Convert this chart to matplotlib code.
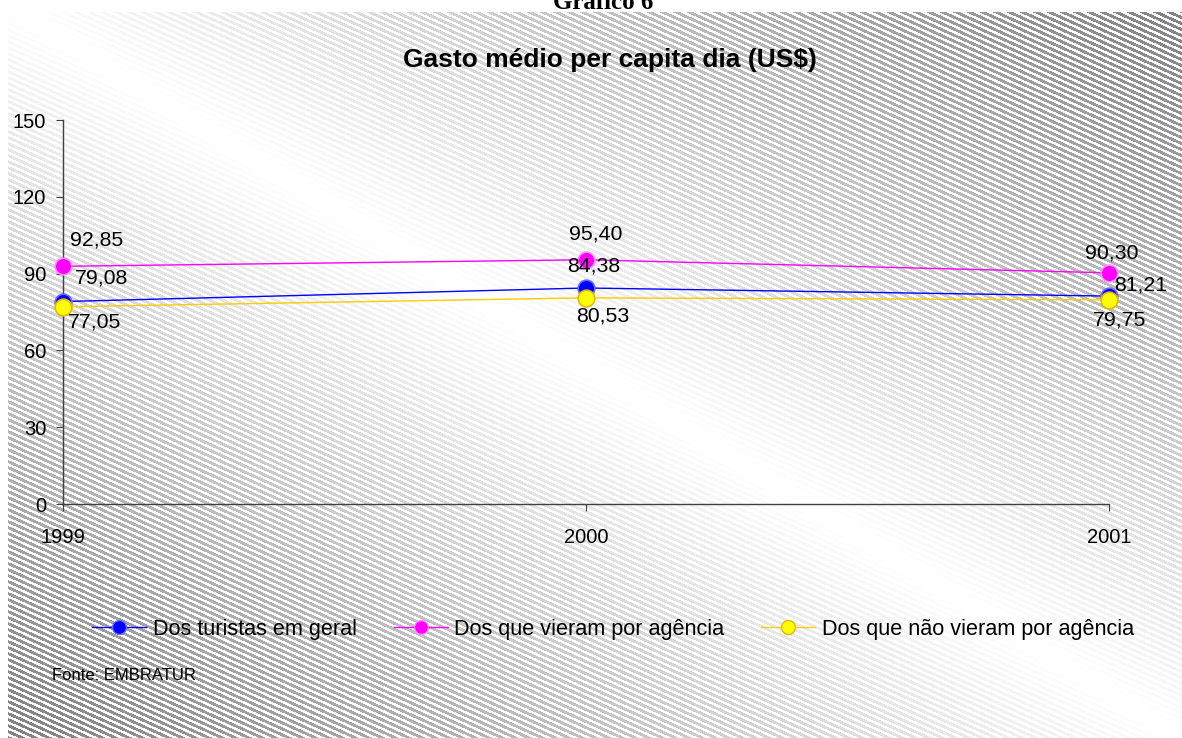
import numpy as np
import matplotlib
matplotlib.use('Agg')
import matplotlib.pyplot as plt
from matplotlib.lines import Line2D

plt.rcParams['font.family'] = ['Liberation Sans', 'DejaVu Sans']

# dados
anos = ['1999', '2000', '2001']
geral = [79.08, 84.38, 81.21]
agencia = [92.85, 95.40, 90.30]
sem_agencia = [77.05, 80.53, 79.75]
series_nomes = ['Dos turistas em geral', 'Dos que vieram por agência', 'Dos que não vieram por agência']
yticks = [0, 30, 60, 90, 120, 150]

W, H = 1182, 738
fig = plt.figure(figsize=(W / 100, H / 100), dpi=100)

# fundo listrado em diagonal com degradê
bx0, by0 = 8, 12
rr, cc = np.mgrid[by0:H, bx0:W]
d = np.abs(cc / W - rr / H)
s = (rr - 0.45 * cc) % 6
listra = s < 3.2
fundo = np.where(listra, 1 - 0.5 * d, 1.0)
ax_bg = fig.add_axes([bx0 / W, 0, (W - bx0) / W, (H - by0) / H])
ax_bg.imshow(fundo, cmap='gray', vmin=0, vmax=1, aspect='auto', interpolation='nearest')
ax_bg.axis('off')

# eixo principal
ax = fig.add_axes([63 / W, 1 - 504 / H, (1109 - 63) / W, (504 - 120) / H])
ax.set_facecolor('none')
x = np.arange(len(anos))

cores = [('#0000FF', '#0000FF', '#6A6AFF'),
         ('#FF00FF', '#FF00FF', '#FF8CFF'),
         ('#FFCC00', '#FFFF00', '#E6B800')]
dados = [geral, agencia, sem_agencia]
for vals, (lc, fc, ec) in zip(dados, cores):
    ax.plot(x, vals, color=lc, lw=1.0, marker='o', markersize=12,
            markerfacecolor=fc, markeredgecolor=ec, markeredgewidth=1.2,
            clip_on=False, zorder=3)

# rótulos de dados (deslocamentos em pixels)
desloc = [
    [(38, 24), (8, 21.5), (32, 11)],
    [(34, 26.5), (10, 26), (3, 20)],
    [(32, -15), (16.5, -18), (11, -20)],
]
for vals, offs in zip(dados, desloc):
    for xi, v, (dx, dy) in zip(x, vals, offs):
        ax.annotate(f'{v:.2f}'.replace('.', ','), (xi, v), xytext=(dx, dy),
                    textcoords='offset pixels', ha='center', va='center',
                    fontsize=15.3, color='black', zorder=4)

ax.set_xlim(0, 2)
ax.set_ylim(0, 150)
ax.set_yticks(yticks)
ax.set_xticks(x)
ax.set_xticklabels(anos)
for sp in ['top', 'right']:
    ax.spines[sp].set_visible(False)
for sp in ['left', 'bottom']:
    ax.spines[sp].set_color('#404040')
    ax.spines[sp].set_linewidth(1.0)
ax.tick_params(axis='both', direction='out', length=5, color='#404040', labelsize=14.5)
ax.tick_params(axis='y', pad=7)
ax.tick_params(axis='x', pad=12)

# títulos
fig.text(603 / W, 1 - 9 / H, 'Gráfico 6', ha='center', va='baseline',
         fontsize=18, fontweight='bold', family=['Liberation Serif', 'DejaVu Serif'])
fig.text(610 / W, 1 - 60 / H, 'Gasto médio per capita dia (US$)', ha='center', va='center',
         fontsize=19, fontweight='bold')

# legenda
handles = [Line2D([], [], color=lc, lw=1.0, marker='o', markersize=10,
                  markerfacecolor=fc, markeredgecolor=ec)
           for lc, fc, ec in cores]
fig.legend(handles, series_nomes, loc='center', bbox_to_anchor=(613 / W, 1 - 629 / H),
           ncol=3, frameon=False, fontsize=15.6, handlelength=2.5, handletextpad=0.3,
           columnspacing=1.7)

fig.text(52 / W, 1 - 676 / H, 'Fonte: EMBRATUR', ha='left', va='center', fontsize=12)

fig.savefig('out.png', dpi=100)
